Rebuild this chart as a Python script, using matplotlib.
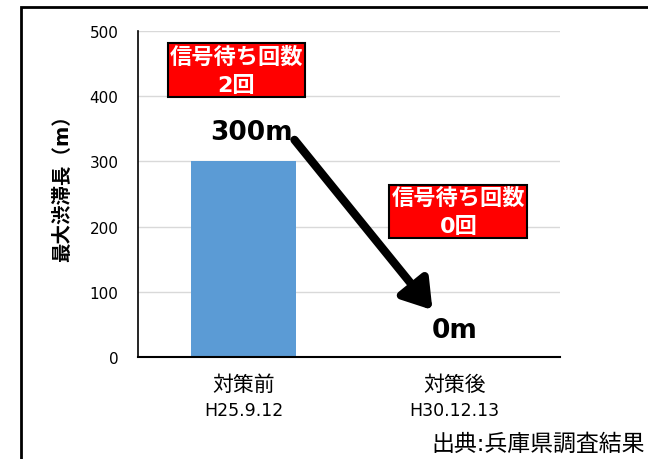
import matplotlib.pyplot as plt
from matplotlib.patches import Rectangle

plt.rcParams['font.family'] = ['DejaVu Sans', 'Noto Sans CJK JP']

# data
categories = ['対策前', '対策後']
dates = ['H25.9.12', 'H30.12.13']
values = [300, 0]
value_labels = ['300m', '0m']
wait_labels = ['信号待ち回数\n2回', '信号待ち回数\n0回']

fig = plt.figure(figsize=(6.48, 4.6), dpi=100)
ax = fig.add_axes([0.213, 0.2217, 0.651, 0.7087])

x = range(len(categories))
ax.bar(x, values, width=0.5, color='#5B9BD5', zorder=2)
ax.set_xlim(-0.5, 1.5)
ax.set_ylim(0, 500)
ax.set_yticks([0, 100, 200, 300, 400, 500])
ax.set_xticks(list(x))
ax.set_xticklabels(categories, fontsize=15)
ax.tick_params(axis='x', length=0, pad=12)
ax.tick_params(axis='y', length=0, labelsize=11, pad=14)
for xi, d in zip(x, dates):
    ax.text(xi, -0.163, d, transform=ax.get_xaxis_transform(), ha='center',
            va='center', fontsize=12.5)
ax.yaxis.grid(True, color='#d9d9d9', linewidth=1, zorder=0)
for s in ['top', 'right']:
    ax.spines[s].set_visible(False)
ax.spines['left'].set_linewidth(1.2)
ax.spines['bottom'].set_linewidth(1.5)
ax.set_ylabel('最大渋滞長（m）', fontsize=14, fontweight='bold')
ax.yaxis.set_label_coords(-0.155, 0.535)

# value labels
ax.text(0.038, values[0] + 45, value_labels[0], ha='center', va='center',
        fontsize=19, fontweight='bold')
ax.text(1.0, values[1] + 42, value_labels[1], ha='center', va='center',
        fontsize=19, fontweight='bold')

# arrow
ax.annotate('', xy=(0.896, 72), xytext=(0.242, 333),
            arrowprops=dict(arrowstyle='-|>,head_length=1.7,head_width=1.1',
                            color='black', lw=6, shrinkA=0, shrinkB=0),
            annotation_clip=False)

# red boxes
box_props = dict(boxstyle='square,pad=0.1', facecolor='#FF0000',
                 edgecolor='black', linewidth=1.5)
ax.text(-0.033, 440, wait_labels[0], ha='center', va='center', color='white',
        fontsize=16, fontweight='bold', linespacing=1.5, bbox=box_props)
ax.text(1.019, 223, wait_labels[1], ha='center', va='center', color='white',
        fontsize=16, fontweight='bold', linespacing=1.5, bbox=box_props,
        clip_on=False)

# source
fig.text(0.995, 0.035, '出典:兵庫県調査結果', ha='right', va='center', fontsize=16.5)

# outer frame
fig.patches.append(Rectangle((21 / 648, -0.1), 1.2, 1.1 - 8 / 460,
                             transform=fig.transFigure, fill=False,
                             edgecolor='black', linewidth=2))

fig.savefig('out.png', dpi=100)
